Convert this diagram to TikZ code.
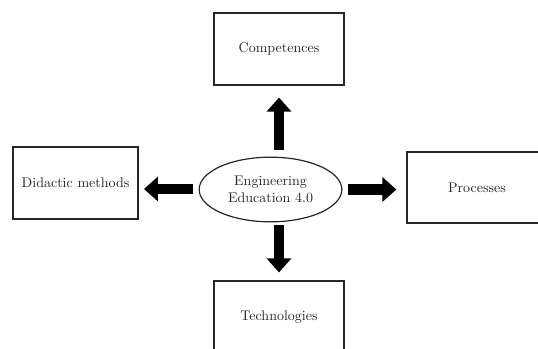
\documentclass[tikz,border=0pt]{standalone}
\usepackage{tikz}
\usetikzlibrary{arrows.meta,shapes.geometric}

\begin{document}
\begin{tikzpicture}[
    x=0.75pt, y=-0.75pt,
    every node/.style={font=\fontsize{10.5}{12.5}\selectfont, text=black!85},
    box/.style={rectangle, draw=black!85, line width=0.9pt, minimum width=97.5pt, minimum height=54pt, align=center},
    hub/.style={ellipse, draw=black!85, line width=0.9pt, inner sep=0pt, minimum width=107pt, minimum height=48.5pt, align=center},
    bigarrow/.style={-{Triangle[length=10.5pt,width=18pt]}, line width=8pt}
]
\useasboundingbox (0,0) rectangle (538,349);
\clip (0,0) rectangle (538,349);

% -------- Centre --------
\node[hub] (edu) at (270.5,189.5) {Engineering\\Education 4.0};

% -------- Boxes --------
\node[box] (comp) at (279,49) {Competences};
\node[box, minimum width=93.75pt] (didactic) at (75.5,183) {Didactic methods};
\node[box, minimum width=105pt, minimum height=53.25pt] (processes) at (477,187.5) {Processes};
\node[box] (tech) at (279,317) {Technologies};

% -------- Arrows --------
\draw[bigarrow, shorten <=5pt, shorten >=9pt] (edu.north -| comp.south) -- (comp.south);
\draw[bigarrow, shorten <=4pt, shorten >=4pt] (edu.west |- didactic.east) ++(0,6) coordinate (dw) (dw) -- (dw -| didactic.east);
\draw[bigarrow, shorten <=4pt, shorten >=7.5pt] (edu.east) -- (edu.east -| processes.west);
\draw[bigarrow, shorten <=2pt, shorten >=6pt] (edu.south -| tech.north) -- (tech.north);

\end{tikzpicture}
\end{document}
